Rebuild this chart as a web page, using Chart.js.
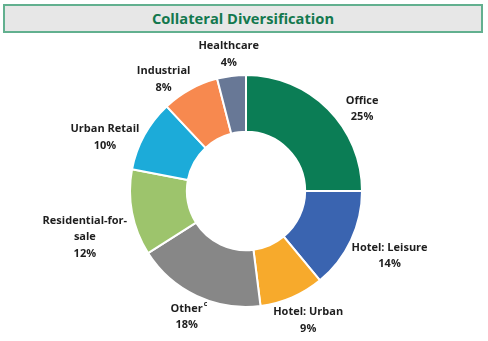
<!DOCTYPE html>
<html>
<head>
<meta charset="utf-8">
<script src="https://cdn.jsdelivr.net/npm/chart.js@4.4.1/dist/chart.umd.min.js"></script>
<style>
  html,body{margin:0;padding:0;background:#fff;}
  #wrap{position:relative;width:488px;height:341px;overflow:hidden;}
  #title{position:absolute;left:3px;top:4px;width:476px;height:25px;border:2px solid #62b08f;background:#e7e7e7;
    font-family:"Open Sans",sans-serif;font-weight:700;font-size:14.7px;line-height:25px;color:#13784e;text-align:center;}
  #chart{position:absolute;left:0;top:0;}
</style>
</head>
<body>
<div id="wrap">
  <div id="title">Collateral Diversification</div>
  <canvas id="chart" width="488" height="341"></canvas>
</div>
<script>
// Segment data, clockwise from 12 o'clock
const categories = ['Office', 'Hotel: Leisure', 'Hotel: Urban', 'Other', 'Residential-for-sale', 'Urban Retail', 'Industrial', 'Healthcare'];
const shares = [25, 14, 9, 18, 12, 10, 8, 4];
// label lines as printed next to each segment
const labelLines = [['Office'], ['Hotel: Leisure'], ['Hotel: Urban'], ['Other'], ['Residential-for-', 'sale'], ['Urban Retail'], ['Industrial'], ['Healthcare']];
const footnoteMarks = ['', '', '', 'c', '', '', '', ''];
const colors = ['#0b7d55', '#3a64b0', '#f7aa2c', '#878787', '#9dc46c', '#1cabd9', '#f7894f', '#687896'];

const FONT = '"Open Sans", sans-serif';
const LINE_H = 16.5;

// draws "name / xx%" outside each arc, pushed off the ring by its own box size
const outsideLabels = {
  id: 'outsideLabels',
  afterDatasetsDraw(chart, args, opts){
    const ctx = chart.ctx;
    const meta = chart.getDatasetMeta(0);
    ctx.save();
    ctx.font = 'bold 11px ' + FONT;
    ctx.fillStyle = '#1e1e1e';
    ctx.textAlign = 'center';
    ctx.textBaseline = 'middle';
    meta.data.forEach((arc, i) => {
      const p = arc.getProps(['x', 'y', 'startAngle', 'endAngle', 'outerRadius'], true);
      const mid = (p.startAngle + p.endAngle) / 2;
      const dx = Math.cos(mid), dy = Math.sin(mid);
      const lines = labelLines[i].concat([shares[i] + '%']);
      const w = Math.max(...lines.map(l => ctx.measureText(l).width)) + 4;
      const h = lines.length * LINE_H;
      const edge = Math.min(Math.abs(dx) > 1e-6 ? w / 2 / Math.abs(dx) : 1e9, Math.abs(dy) > 1e-6 ? h / 2 / Math.abs(dy) : 1e9);
      const d = p.outerRadius + opts.gap + edge;
      const nudge = (opts.nudge && opts.nudge[i]) || [0, 0];
      const cx = p.x + dx * d + nudge[0];
      const cy = p.y + dy * d + nudge[1];
      lines.forEach((l, k) => {
        const ly = cy - h / 2 + LINE_H / 2 + k * LINE_H;
        ctx.fillText(l, cx, ly);
        if (k === labelLines[i].length - 1 && footnoteMarks[i]) {
          const tw = ctx.measureText(l).width;
          ctx.save();
          ctx.font = 'bold 7px ' + FONT;
          ctx.textAlign = 'left';
          ctx.fillText(footnoteMarks[i], cx + tw / 2 + 1, ly - 5);
          ctx.restore();
        }
      });
    });
    ctx.restore();
  }
};

new Chart(document.getElementById('chart'), {
  type: 'doughnut',
  data: {
    labels: categories,
    datasets: [{
      data: shares,
      backgroundColor: colors,
      borderColor: '#ffffff',
      borderWidth: 2,
      hoverOffset: 0
    }]
  },
  options: {
    responsive: false,
    animation: false,
    cutout: '51%',
    layout: { padding: { top: 74, bottom: 33, left: 129, right: 125 } },
    plugins: {
      legend: { display: false },
      tooltip: { enabled: false },
      // Excel-style placement tweaks for a few labels
      outsideLabels: { gap: 5, nudge: { 0: [14, 20], 1: [-1, -3], 2: [7, 2], 4: [2, 15], 5: [-5, 21], 6: [-15, 11] } }
    }
  },
  plugins: [outsideLabels]
});
</script>
</body>
</html>
